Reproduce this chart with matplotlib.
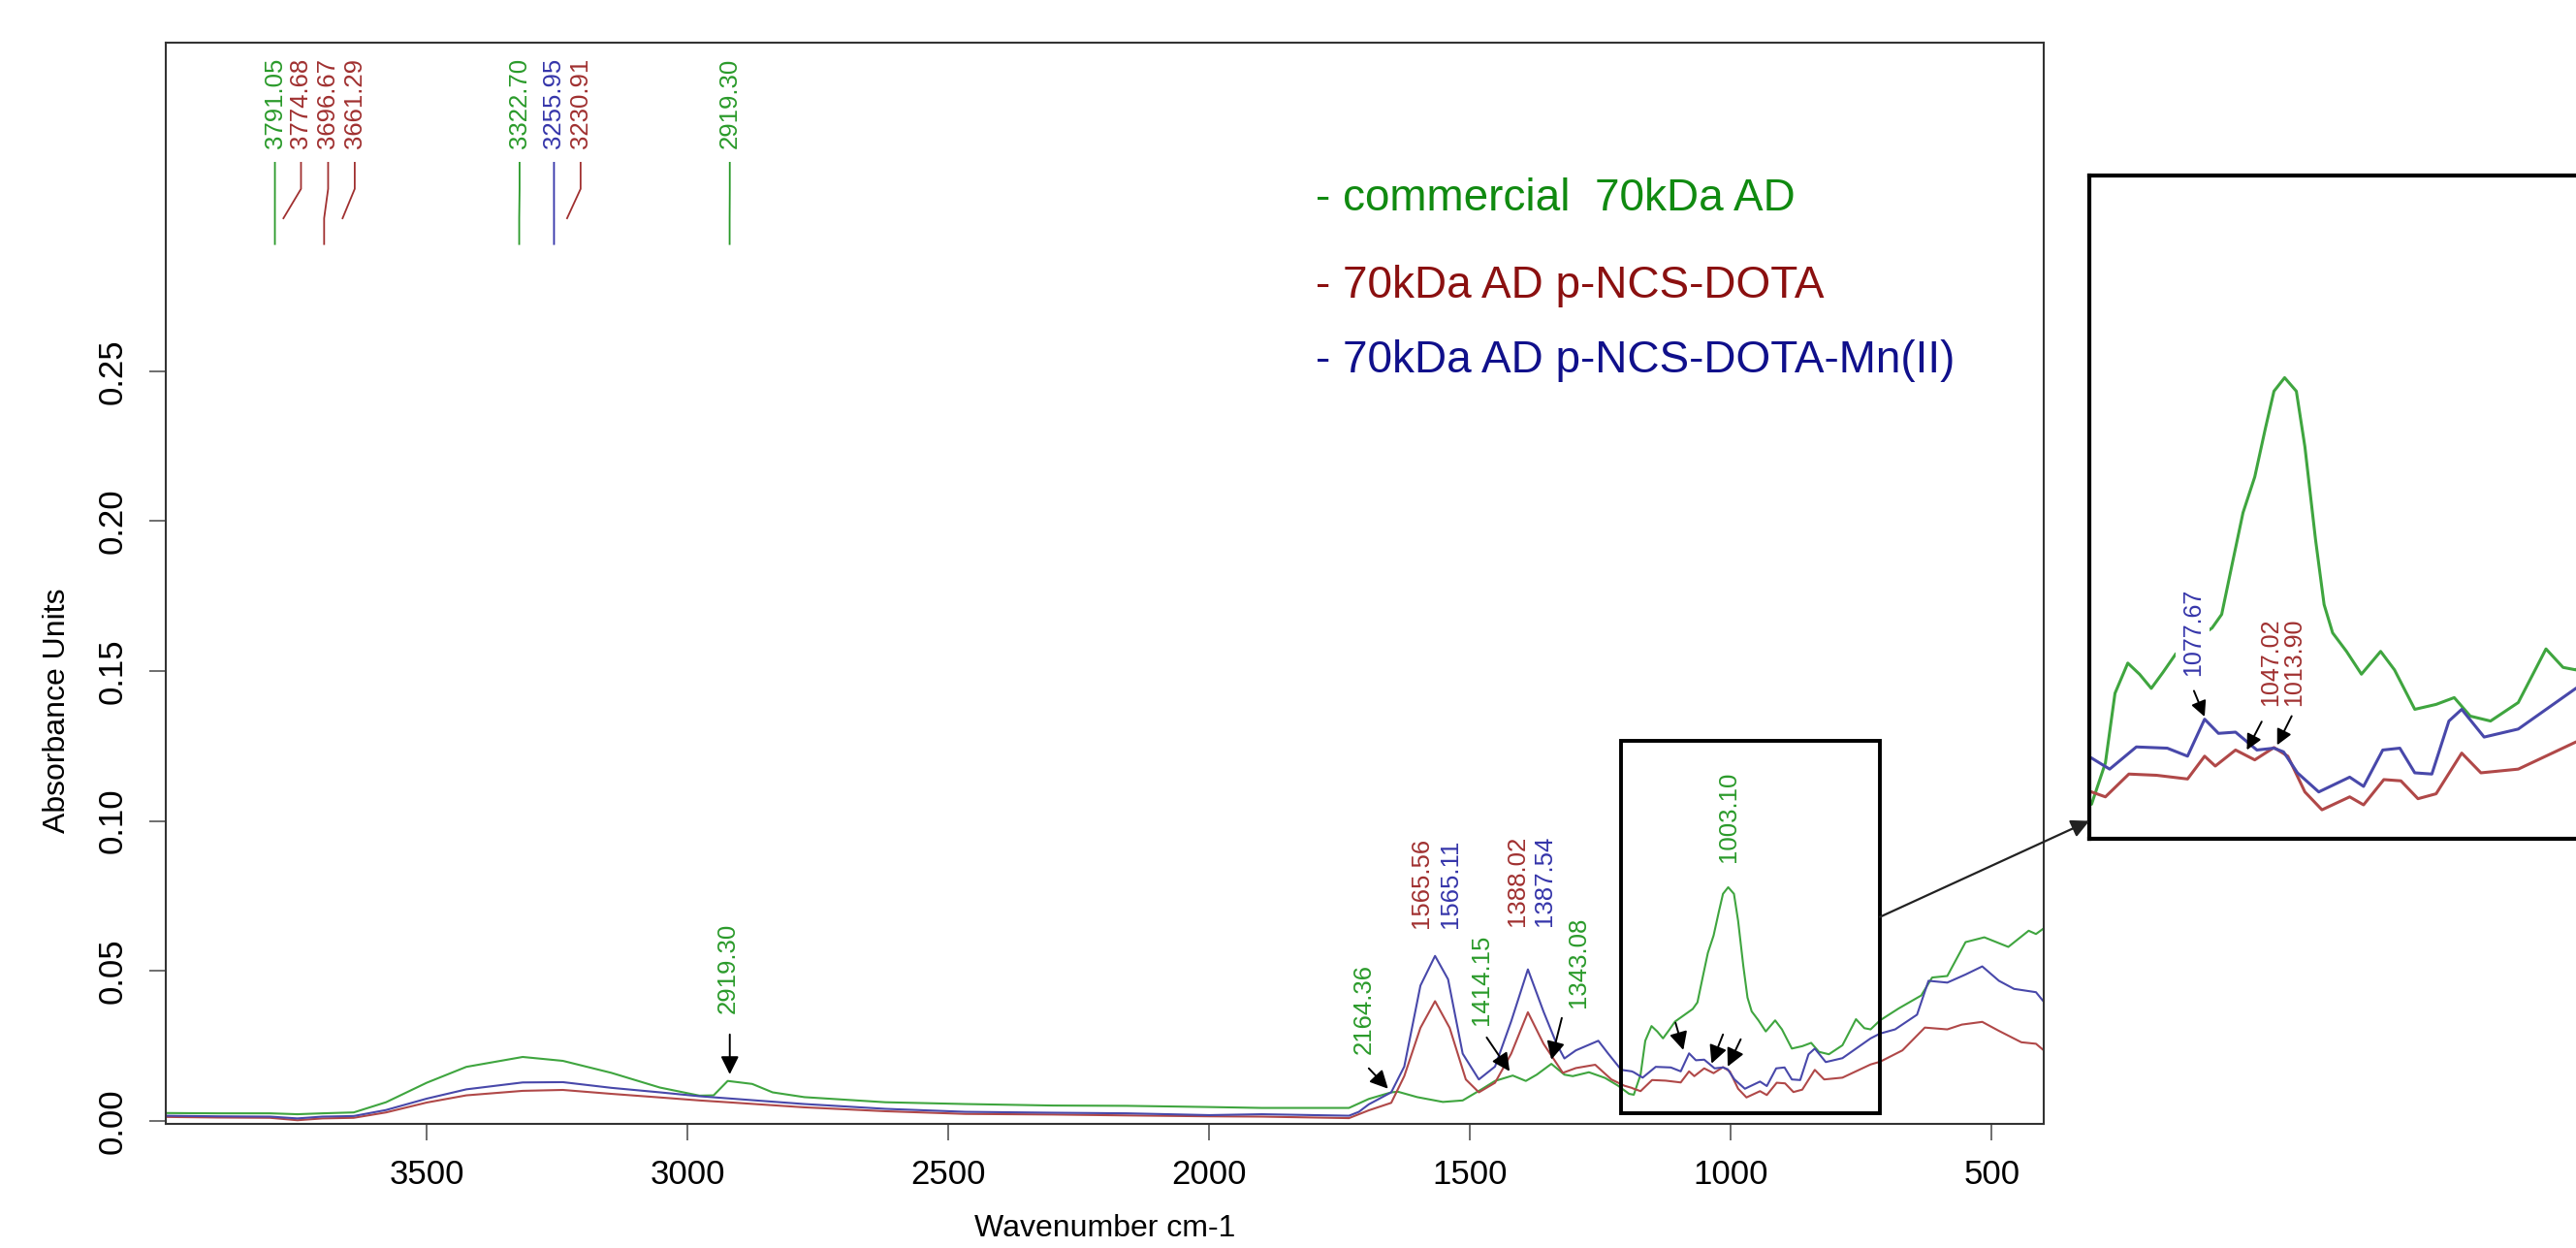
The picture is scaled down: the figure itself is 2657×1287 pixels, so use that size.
import numpy as np
import matplotlib
matplotlib.use('Agg')
import matplotlib.pyplot as plt
from matplotlib.patches import Rectangle, ConnectionPatch

plt.rcParams['font.family'] = ['Liberation Sans', 'DejaVu Sans']

# Spectra (wavenumber cm-1, absorbance)
wn_green = [4000, 3900, 3800, 3748, 3700, 3640, 3578, 3500, 3424, 3316, 3239, 3146, 3053, 2977,
            2950, 2923, 2876, 2837, 2776, 2621, 2467, 2300, 2158, 2000, 1899, 1732, 1694, 1651,
            1638, 1601, 1552, 1514, 1477, 1452, 1418, 1393, 1372, 1344, 1319, 1303, 1272, 1241,
            1216, 1195, 1186, 1173, 1164, 1152, 1141, 1130, 1119, 1107, 1090, 1073, 1064, 1054,
            1044, 1033, 1023, 1015, 1005, 994, 986, 976, 968, 960, 947, 933, 915, 902, 883, 863,
            846, 831, 812, 786, 760, 744, 732, 714, 678, 635, 614, 585, 550, 514, 468, 429, 415, 400]
ab_green = [0.0026, 0.0025, 0.0025, 0.0022, 0.0025, 0.0028, 0.0062, 0.0127, 0.0180, 0.0213, 0.0200,
            0.0160, 0.0111, 0.0084, 0.0085, 0.0133, 0.0123, 0.0095, 0.0079, 0.0062, 0.0056, 0.0051,
            0.0050, 0.0046, 0.0043, 0.0043, 0.0073, 0.0095, 0.0097, 0.0079, 0.0063, 0.0068, 0.0106,
            0.0133, 0.0151, 0.0133, 0.0154, 0.0190, 0.0154, 0.0149, 0.0162, 0.0143, 0.0117, 0.0090,
            0.0087, 0.0154, 0.0267, 0.0316, 0.0298, 0.0275, 0.0301, 0.0331, 0.0352, 0.0373, 0.0395,
            0.0478, 0.0560, 0.0618, 0.0697, 0.0757, 0.0779, 0.0757, 0.0667, 0.0516, 0.0411, 0.0365,
            0.0335, 0.0298, 0.0335, 0.0305, 0.0241, 0.0249, 0.0260, 0.0230, 0.0222, 0.0252, 0.0339,
            0.0309, 0.0305, 0.0335, 0.0375, 0.0418, 0.0478, 0.0483, 0.0596, 0.0612, 0.0580, 0.0634,
            0.0623, 0.0642]

wn_red = [4000, 3900, 3800, 3748, 3700, 3640, 3578, 3500, 3424, 3316, 3239, 3146, 3053, 2977, 2923,
          2776, 2621, 2467, 2300, 2158, 2000, 1899, 1732, 1694, 1651, 1626, 1595, 1567, 1539, 1508,
          1483, 1452, 1421, 1389, 1359, 1322, 1297, 1260, 1229, 1204, 1190, 1186, 1173, 1151, 1125,
          1096, 1080, 1070, 1051, 1033, 1015, 1002, 986, 970, 944, 931, 912, 896, 880, 863, 839, 821,
          786, 732, 714, 671, 628, 585, 557, 518, 486, 443, 415, 400]
ab_red = [0.0013, 0.0011, 0.0010, 0.0002, 0.0008, 0.0010, 0.0028, 0.0061, 0.0085, 0.0100, 0.0103,
          0.0090, 0.0078, 0.0068, 0.0062, 0.0045, 0.0032, 0.0023, 0.0021, 0.0018, 0.0015, 0.0014,
          0.0009, 0.0035, 0.0060, 0.0149, 0.0310, 0.0399, 0.0310, 0.0138, 0.0095, 0.0127, 0.0224,
          0.0362, 0.0257, 0.0160, 0.0176, 0.0187, 0.0138, 0.0117, 0.0110, 0.0107, 0.0099, 0.0136,
          0.0134, 0.0128, 0.0165, 0.0149, 0.0175, 0.0159, 0.0179, 0.0165, 0.0107, 0.0078, 0.0099,
          0.0086, 0.0127, 0.0125, 0.0096, 0.0104, 0.0170, 0.0138, 0.0144, 0.0188, 0.0197, 0.0235,
          0.0311, 0.0305, 0.0321, 0.0330, 0.0300, 0.0262, 0.0257, 0.0235]

wn_blue = [4000, 3900, 3800, 3748, 3700, 3640, 3578, 3500, 3424, 3316, 3239, 3146, 3053, 2977, 2923,
           2776, 2621, 2467, 2300, 2158, 2000, 1899, 1732, 1713, 1694, 1651, 1626, 1595, 1567, 1542,
           1514, 1483, 1452, 1421, 1389, 1359, 1334, 1319, 1297, 1254, 1235, 1210, 1190, 1186, 1169,
           1144, 1115, 1096, 1080, 1067, 1051, 1031, 1015, 1006, 993, 973, 944, 931, 913, 897, 883,
           867, 851, 839, 818, 786, 732, 714, 685, 643, 621, 585, 550, 518, 486, 457, 415, 400]
ab_blue = [0.0017, 0.0015, 0.0014, 0.0008, 0.0014, 0.0016, 0.0036, 0.0074, 0.0105, 0.0128, 0.0129,
           0.0110, 0.0095, 0.0082, 0.0075, 0.0056, 0.0040, 0.0030, 0.0027, 0.0025, 0.0019, 0.0022,
           0.0017, 0.0030, 0.0055, 0.0095, 0.0181, 0.0451, 0.0550, 0.0472, 0.0224, 0.0138, 0.0181,
           0.0332, 0.0505, 0.0364, 0.0257, 0.0208, 0.0235, 0.0267, 0.0224, 0.0170, 0.0165, 0.0162,
           0.0144, 0.0180, 0.0178, 0.0165, 0.0225, 0.0202, 0.0204, 0.0175, 0.0178, 0.0172, 0.0138,
           0.0107, 0.0131, 0.0116, 0.0175, 0.0178, 0.0138, 0.0136, 0.0222, 0.0241, 0.0196, 0.0209,
           0.0275, 0.0291, 0.0305, 0.0354, 0.0467, 0.0461, 0.0488, 0.0515, 0.0467, 0.0440, 0.0429,
           0.0397]

c_green, c_red, c_blue = '#3fa53f', '#b04848', '#4848aa'
t_green, t_red, t_blue = '#2a9a2a', '#a03030', '#3535aa'
cols = {'g': t_green, 'r': t_red, 'b': t_blue}

# peak labels at the top, with leader lines
top_text = ['3791.05', '3774.68', '3696.67', '3661.29', '3322.70', '3255.95', '3230.91', '2919.30']
top_lab_x = [3791, 3741, 3689, 3638, 3322, 3256, 3205, 2919]
top_peak_x = [3791.05, 3774.68, 3696.67, 3661.29, 3322.70, 3255.95, 3230.91, 2919.30]
top_col = ['g', 'r', 'r', 'r', 'g', 'b', 'r', 'g']
top_end = [0.2924, 0.301, 0.2924, 0.301, 0.2924, 0.2924, 0.301, 0.2924]

# peak labels near the curves
low_text = ['2919.30', '2164.36', '1565.56', '1565.11', '1414.15', '1388.02', '1387.54', '1343.08', '1003.10']
low_x = [2923, 1704, 1594, 1538, 1478, 1409, 1357, 1292, 1004]
low_y = [0.0359, 0.0223, 0.0644, 0.0644, 0.0320, 0.0650, 0.0650, 0.0378, 0.0864]
low_col = ['g', 'g', 'r', 'b', 'g', 'r', 'b', 'g', 'g']

arr_x0 = [2919, 1694, 1468, 1324, 1106, 1015, 981]
arr_y0 = [0.0288, 0.0175, 0.0278, 0.0343, 0.0327, 0.0288, 0.0272]
arr_x1 = [2919, 1657, 1424, 1344, 1091, 1037, 1006]
arr_y1 = [0.0155, 0.0107, 0.0165, 0.0204, 0.0236, 0.0191, 0.0181]

# inset labels
ins_text = ['1077.67', '1047.02', '1013.90']
ins_x = [1091, 1018, 996.5]
ins_y = [0.0296, 0.0246, 0.0246]
ins_col = ['b', 'r', 'r']
ins_x0 = [1090, 1026.5, 998.4]
ins_y0 = [0.0271, 0.0221, 0.0230]
ins_x1 = [1080, 1040.4, 1012]
ins_y1 = [0.0229, 0.0175, 0.0183]

legend_text = ['- commercial  70kDa AD', '- 70kDa AD p-NCS-DOTA', '- 70kDa AD p-NCS-DOTA-Mn(II)']
legend_col = ['#108a10', '#8b1010', '#10108b']
legend_y = [0.3076, 0.2785, 0.2536]

zoom_x = (1210, 714)
zoom_y = (0.0027, 0.1268)

fig = plt.figure(figsize=(26.57, 12.87), dpi=100)
ax = fig.add_axes([0.0644, 0.0995, 0.729, 0.8664])

ax.plot(wn_green, ab_green, color=c_green, lw=1.5)
ax.plot(wn_red, ab_red, color=c_red, lw=1.5)
ax.plot(wn_blue, ab_blue, color=c_blue, lw=1.5)

ax.set_xlim(4000, 400)
ax.set_ylim(-0.001, 0.3596)
ax.set_xticks([3500, 3000, 2500, 2000, 1500, 1000, 500])
ax.set_yticks([0.0, 0.05, 0.10, 0.15, 0.20, 0.25])
ax.set_yticklabels(['0.00', '0.05', '0.10', '0.15', '0.20', '0.25'], rotation=90, va='center')
ax.tick_params(axis='both', direction='out', length=12, width=1.2, color='#555555', labelsize=25)
ax.tick_params(axis='x', pad=14)
ax.tick_params(axis='y', pad=16)
for s in ax.spines.values():
    s.set_linewidth(1.5)
    s.set_color('#333333')

ax.set_xlabel('Wavenumber cm-1', fontsize=23)
ax.set_ylabel('Absorbance Units', fontsize=23)
ax.xaxis.set_label_coords(0.5, -0.097)
ax.xaxis.label.set_va('center')
ax.yaxis.set_label_coords(-0.058, 0.382)
ax.yaxis.label.set_va('center')

for t, lx, px, c, ye in zip(top_text, top_lab_x, top_peak_x, top_col, top_end):
    ax.plot([lx, lx, px, px], [0.3195, 0.3108, 0.301, ye], color=cols[c], lw=1.3)
    ax.text(lx, 0.3244, t, rotation=90, ha='center', va='bottom', color=cols[c], fontsize=18.5)

for t, x, y, c in zip(low_text, low_x, low_y, low_col):
    ax.text(x, y, t, rotation=90, ha='center', va='bottom', color=cols[c], fontsize=18.5)

for x0, y0, x1, y1 in zip(arr_x0, arr_y0, arr_x1, arr_y1):
    ax.annotate('', xy=(x1, y1), xytext=(x0, y0),
                arrowprops=dict(arrowstyle='-|>', color='black', lw=1.4, mutation_scale=28,
                                shrinkA=0, shrinkB=0))

for t, c, y in zip(legend_text, legend_col, legend_y):
    ax.text(1795, y, t, color=c, fontsize=33, ha='left', va='center')

ax.add_patch(Rectangle((zoom_x[1], zoom_y[0]), zoom_x[0] - zoom_x[1], zoom_y[1] - zoom_y[0],
                       fill=False, edgecolor='black', lw=2.8, zorder=5))

# zoomed inset
axins = fig.add_axes([0.8111, 0.3279, 0.2021, 0.5315])
axins.plot(wn_green, ab_green, color=c_green, lw=2.2)
axins.plot(wn_red, ab_red, color=c_red, lw=2.2)
axins.plot(wn_blue, ab_blue, color=c_blue, lw=2.2)
axins.set_xlim(1188, 700)
axins.set_ylim(0.0031, 0.1107)
axins.set_xticks([])
axins.set_yticks([])
for s in axins.spines.values():
    s.set_linewidth(3)
    s.set_color('black')

for i, (t, x, y, c) in enumerate(zip(ins_text, ins_x, ins_y, ins_col)):
    box = dict(facecolor='white', edgecolor='none', pad=4) if i == 0 else None
    axins.text(x, y, t, rotation=90, ha='center', va='bottom', color=cols[c], fontsize=18,
               bbox=box, zorder=6)

for x0, y0, x1, y1 in zip(ins_x0, ins_y0, ins_x1, ins_y1):
    axins.annotate('', xy=(x1, y1), xytext=(x0, y0),
                   arrowprops=dict(arrowstyle='-|>', color='black', lw=1.4, mutation_scale=24,
                                   shrinkA=0, shrinkB=0))

con = ConnectionPatch(xyA=(zoom_x[1], 0.068), coordsA=ax.transData,
                      xyB=(1188, 0.006), coordsB=axins.transData,
                      arrowstyle='-|>', color='#222222', lw=1.6, mutation_scale=28)
fig.add_artist(con)

fig.savefig('out.png', dpi=100)
